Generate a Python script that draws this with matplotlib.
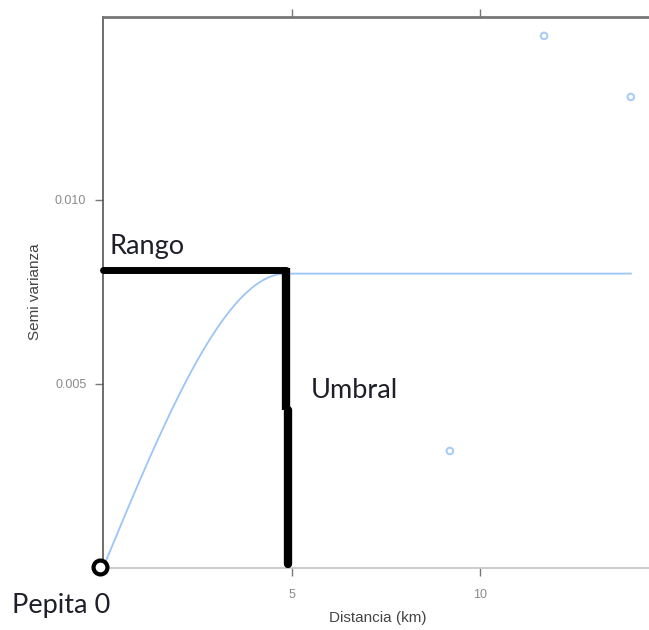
import numpy as np
import matplotlib
matplotlib.use("Agg")
import matplotlib.pyplot as plt

# Data
dist = [9.2, 11.7, 14.0]              # km
semivar = [0.00318, 0.01446, 0.0128]  # empirical semivariance
sill = 0.0080
model_range = 4.85
nugget = 0.0
model_xmax = 14.0
x_ticks = [5, 10]
y_ticks = [0.005, 0.010]
y_tick_labels = ["0.005", "0.010"]
ann_rango_y = 0.0081
ann_umbral_x_upper = 4.85
ann_umbral_x_lower = 4.92
ann_umbral_break = 0.0043

fig = plt.figure(figsize=(6.49, 6.30), dpi=100)
W, H = 649, 630
left, right, top, bottom = 103, 649, 17, 568
ax = fig.add_axes([left / W, (H - bottom) / H, (right - left) / W, (bottom - top) / H])
ax.set_xlim(0, (right - left) / 37.7)
ax.set_ylim(0, (bottom - top) / 36800)

# spherical model line
h = np.linspace(0, model_xmax, 400)
g = np.where(h < model_range,
             nugget + (sill - nugget) * (1.5 * h / model_range - 0.5 * (h / model_range) ** 3),
             sill)
ax.plot(h, g, color="#9cc5f7", lw=1.3, zorder=2)
ax.scatter(dist, semivar, s=22, facecolors="none", edgecolors="#a9cdf7", linewidths=1.5, zorder=3)

# spines
ax.spines["right"].set_visible(False)
ax.spines["left"].set_color("#555555")
ax.spines["left"].set_linewidth(1.2)
ax.spines["top"].set_color("#777777")
ax.spines["top"].set_linewidth(2.0)
ax.spines["bottom"].set_color("#c4c4c4")
ax.spines["bottom"].set_linewidth(1.2)

ax.set_xticks(x_ticks)
ax.set_xticklabels([str(t) for t in x_ticks])
ax.set_yticks(y_ticks)
ax.set_yticklabels(y_tick_labels)
ax.tick_params(axis="x", which="both", top=True, bottom=True, direction="out",
               length=6, width=1, color="#777777", labelsize=9, labelcolor="#8a8a8a", pad=9)
ax.tick_params(axis="y", direction="out", length=6, width=1, color="#777777",
               labelsize=9, labelcolor="#8a8a8a", pad=6)
for lab in ax.get_xticklabels() + ax.get_yticklabels():
    lab.set_family("Liberation Sans")

# axis labels
fig.text(378 / W, 1 - 618 / H, "Distancia (km)", ha="center", va="center",
         fontsize=11, color="#444444", family="Liberation Sans")
fig.text(35 / W, 1 - 292 / H, "Semi varianza", ha="center", va="center", rotation=90,
         fontsize=11, color="#444444", family="Liberation Sans")

# annotations
ax.plot([0, ann_umbral_x_upper], [ann_rango_y, ann_rango_y], color="black", lw=5,
        solid_capstyle="round", clip_on=False, zorder=5)
ax.plot([ann_umbral_x_upper, ann_umbral_x_upper], [ann_rango_y + 0.00005, ann_umbral_break],
        color="black", lw=6, solid_capstyle="butt", clip_on=False, zorder=5)
ax.plot([ann_umbral_x_lower, ann_umbral_x_lower], [ann_umbral_break, 0.0001],
        color="black", lw=6, solid_capstyle="round", clip_on=False, zorder=5)
ax.plot([-0.08], [0.00003], marker="o", ms=10, mfc="white", mec="black", mew=3,
        clip_on=False, zorder=6)

fig.text(110 / W, 1 - 247 / H, "Rango", ha="left", va="center", fontsize=19.5,
         color="#1f1f2a", family="Lato")
fig.text(311 / W, 1 - 391 / H, "Umbral", ha="left", va="center", fontsize=19.5,
         color="#1f1f2a", family="Lato")
fig.text(12 / W, 1 - 606 / H, "Pepita 0", ha="left", va="center", fontsize=19.5,
         color="#1f1f2a", family="Lato")

fig.savefig("out.png", dpi=100)
